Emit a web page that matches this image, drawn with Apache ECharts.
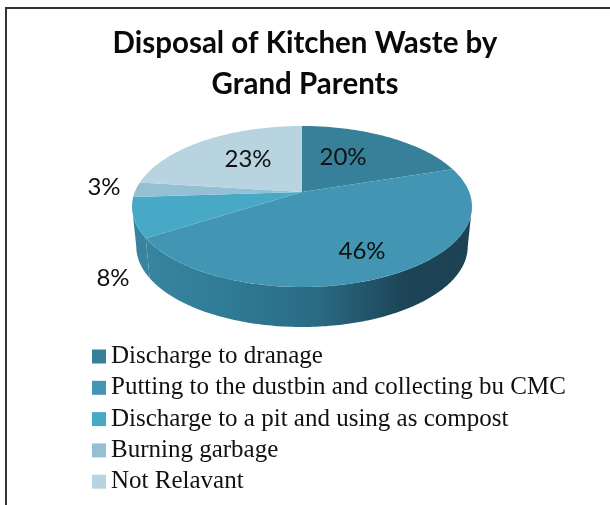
<!DOCTYPE html>
<html>
<head>
<meta charset="utf-8">
<title>Disposal of Kitchen Waste by Grand Parents</title>
<script src="https://cdn.jsdelivr.net/npm/echarts@6/dist/echarts.min.js"></script>
<style>
  html, body { margin: 0; padding: 0; background: #fff; }
  #chart { width: 610px; height: 505px; }
</style>
</head>
<body>
<div id="chart"></div>
<script>
const categories = [
  'Discharge to dranage',
  'Putting to the dustbin and collecting bu CMC',
  'Discharge to a pit and using as compost',
  'Burning garbage',
  'Not Relavant'
]
const shares = [20, 46, 8, 3, 23]
const colors = ['#37809a', '#4296b3', '#48a9c7', '#93c0d3', '#b8d4e1']

// label anchors in pixels, same order as the shares
const labelX = [343, 362, 113, 104, 248]
const labelY = [157, 251, 278, 187, 159]

// the tilted pie: apex of the slices, size and perspective
const apexX = 302
const apexY = 192
const radiusX = 167.2
const radiusY = 77.9
const perspective = 0.18
const depth = 40
const wallFrom = 100.4
const wallTo = 259.6

function project(deg, lower) {
  const a = deg * Math.PI / 180
  const u = Math.sin(a)
  const v = -Math.cos(a)
  const w = 1 - perspective * v
  const shrink = lower ? 0.975 : 1
  return [
    apexX + radiusX * shrink * u / w,
    apexY + radiusY * v / w + (lower ? depth : 0)
  ]
}

function arc(from, to, lower) {
  const pts = []
  const steps = Math.max(2, Math.ceil(Math.abs(to - from)))
  for (let i = 0; i <= steps; i++) {
    pts.push(project(from + (to - from) * i / steps, lower))
  }
  return pts
}

function wallGradient(index) {
  if (index === 2) {
    return '#38849e'
  }
  return new echarts.graphic.LinearGradient(132, 0, 472, 0, [
    { offset: 0, color: '#3a859f' },
    { offset: 0.3, color: '#2f7a94' },
    { offset: 0.55, color: '#2a6a83' },
    { offset: 0.8, color: '#1d4557' },
    { offset: 1, color: '#1c4253' }
  ], true)
}

function drawSlice(index) {
  return function () {
    let total = 0
    shares.forEach(s => { total += s })
    let before = 0
    for (let i = 0; i < index; i++) {
      before += shares[i]
    }
    const start = before / total * 360
    const end = (before + shares[index]) / total * 360

    const children = []

    // side wall only on the part of the rim that faces us
    const from = Math.max(start, wallFrom)
    const to = Math.min(end, wallTo)
    if (to > from) {
      children.push({
        type: 'polygon',
        z2: 1,
        shape: { points: arc(from, to, false).concat(arc(to, from, true)) },
        style: { fill: wallGradient(index) }
      })
    }

    children.push({
      type: 'polygon',
      z2: 2,
      shape: { points: [[apexX, apexY]].concat(arc(start, end, false)) },
      style: { fill: colors[index] }
    })

    children.push({
      type: 'text',
      z2: 3,
      x: labelX[index],
      y: labelY[index],
      style: {
        text: shares[index] + '%',
        fill: '#111',
        font: '24px Lato',
        align: 'center',
        verticalAlign: 'middle'
      }
    })

    return { type: 'group', children: children }
  }
}

const series = categories.map((name, i) => ({
  name: name,
  type: 'custom',
  coordinateSystem: 'none',
  data: [[shares[i]]],
  itemStyle: { color: colors[i] },
  renderItem: drawSlice(i),
  silent: true
}))

const myChart = echarts.init(document.getElementById('chart'), null, { renderer: 'canvas' })

myChart.setOption({
  animation: false,
  backgroundColor: '#fff',
  title: {
    text: 'Disposal of Kitchen Waste by\nGrand Parents',
    left: 300,
    top: 18,
    textAlign: 'center',
    textStyle: {
      fontFamily: 'Lato',
      fontWeight: 'bold',
      fontSize: 29.5,
      lineHeight: 41,
      color: '#0a0a0a'
    }
  },
  legend: {
    data: categories,
    orient: 'vertical',
    left: 87,
    top: 339,
    height: 165,
    icon: 'rect',
    itemWidth: 14,
    itemHeight: 14,
    itemGap: 6.3,
    textStyle: {
      fontFamily: 'Liberation Serif',
      fontSize: 25,
      lineHeight: 21,
      color: '#111'
    }
  },
  graphic: [
    {
      type: 'rect',
      shape: { x: 6, y: 8, width: 640, height: 540 },
      style: { fill: 'none', stroke: '#333', lineWidth: 2 },
      silent: true
    }
  ],
  series: series
})
</script>
</body>
</html>
